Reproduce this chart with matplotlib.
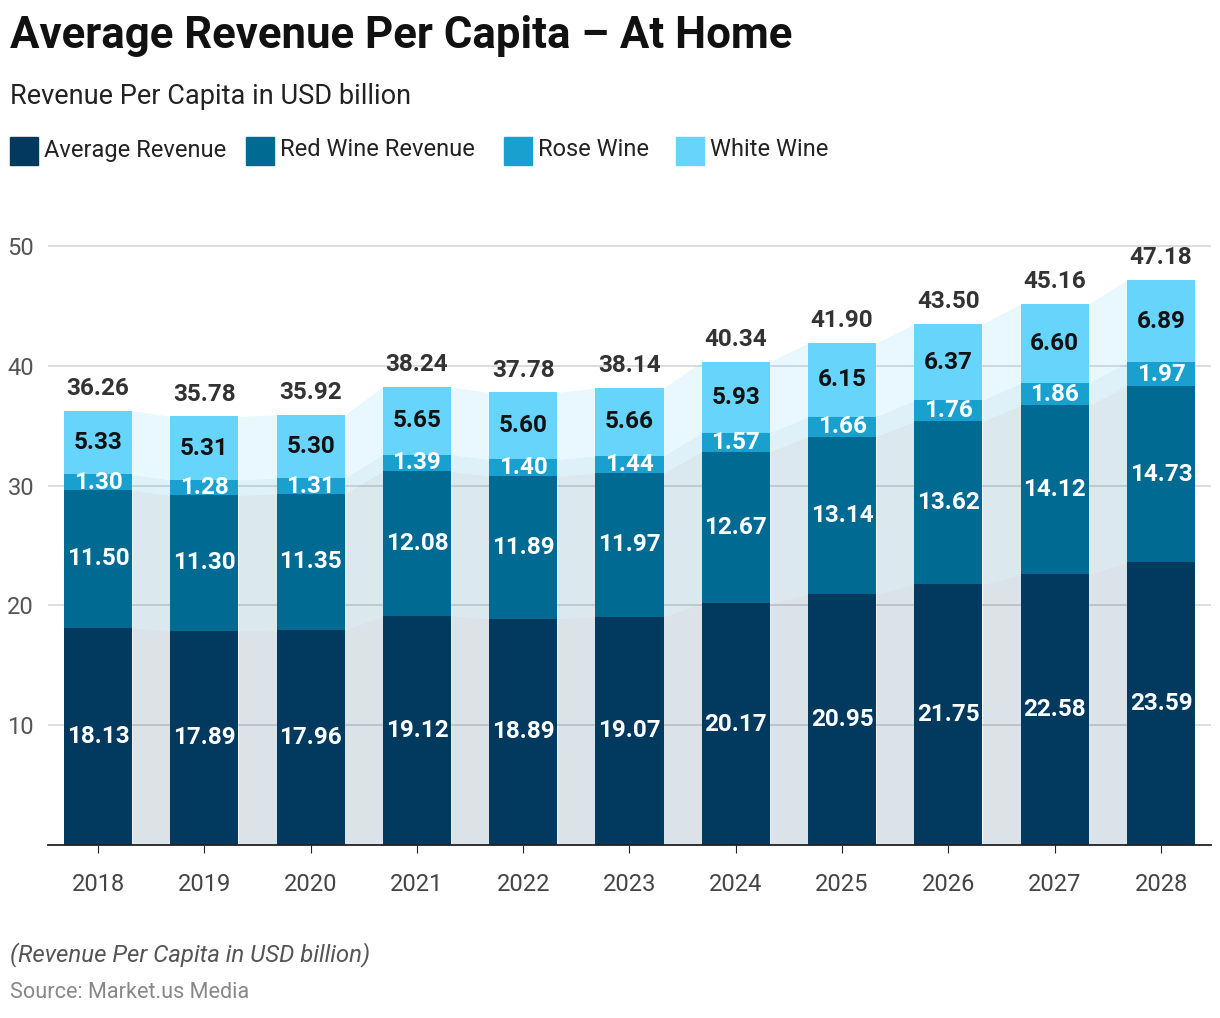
import matplotlib
matplotlib.use("Agg")
import matplotlib.pyplot as plt
from matplotlib.patches import Rectangle
import numpy as np

years = ["2018", "2019", "2020", "2021", "2022", "2023", "2024", "2025", "2026", "2027", "2028"]
average_revenue = [18.13, 17.89, 17.96, 19.12, 18.89, 19.07, 20.17, 20.95, 21.75, 22.58, 23.59]
red_wine = [11.50, 11.30, 11.35, 12.08, 11.89, 11.97, 12.67, 13.14, 13.62, 14.12, 14.73]
rose_wine = [1.30, 1.28, 1.31, 1.39, 1.40, 1.44, 1.57, 1.66, 1.76, 1.86, 1.97]
white_wine = [5.33, 5.31, 5.30, 5.65, 5.60, 5.66, 5.93, 6.15, 6.37, 6.60, 6.89]
totals = [36.26, 35.78, 35.92, 38.24, 37.78, 38.14, 40.34, 41.90, 43.50, 45.16, 47.18]

series_names = ["Average Revenue", "Red Wine Revenue", "Rose Wine", "White Wine"]
series = [average_revenue, red_wine, rose_wine, white_wine]
colors = ["#013a5e", "#016a93", "#1aa0cf", "#66d4fb"]
label_colors = ["white", "white", "white", "#111111"]

plt.rcParams["font.family"] = ["Roboto", "DejaVu Sans"]

fig = plt.figure(figsize=(12.2, 10.18), dpi=100)
ax = fig.add_axes([48 / 1220, (1018 - 845) / 1018, (1211 - 48) / 1220, 52 * 11.98 / 1018])

x = np.arange(len(years))
w = 0.64
bottoms = np.zeros(len(years))
for vals, col, lc in zip(series, colors, label_colors):
    vals = np.array(vals)
    tops = bottoms + vals
    # connectors between bars
    for i in range(len(x) - 1):
        xs = [x[i] + w / 2, x[i + 1] - w / 2]
        ax.fill_between(xs, [bottoms[i], bottoms[i + 1]], [tops[i], tops[i + 1]],
                        color=col, alpha=0.14, linewidth=0, zorder=1)
    ax.bar(x, vals, w, bottom=bottoms, color=col, zorder=2, linewidth=0)
    for i in range(len(x)):
        ax.text(x[i], bottoms[i] + vals[i] / 2, f"{vals[i]:.2f}", ha="center", va="center",
                color=lc, fontsize=17.5, fontweight="bold", zorder=3)
    bottoms = tops

for i in range(len(x)):
    ax.text(x[i], totals[i] + 0.9, f"{totals[i]:.2f}", ha="center", va="bottom",
            color="#333333", fontsize=17.5, fontweight="bold", zorder=3)

ax.set_xlim(-0.47, len(years) - 1 + 0.47)
ax.set_ylim(0, 52)
ax.set_yticks([10, 20, 30, 40, 50])
ax.yaxis.grid(True, color="#d6d6d6", linewidth=1.2, zorder=0)
ax.set_axisbelow(True)
ax.set_xticks(x)
ax.set_xticklabels(years)
for s in ["top", "right", "left"]:
    ax.spines[s].set_visible(False)
ax.spines["bottom"].set_color("#222222")
ax.spines["bottom"].set_linewidth(1.3)
ax.tick_params(axis="y", length=0, labelsize=17, labelcolor="#555555", pad=10)
ax.tick_params(axis="x", length=6, color="#222222", labelsize=17, labelcolor="#444444", pad=14)
for lab in ax.get_yticklabels():
    lab.set_horizontalalignment("right")

fig.text(10 / 1220, 1 - 36 / 1018, "Average Revenue Per Capita – At Home", fontsize=31.5,
         fontweight="bold", color="#111111", va="center", ha="left")
fig.text(10 / 1220, 1 - 96 / 1018, "Revenue Per Capita in USD billion", fontsize=19.5,
         color="#222222", va="center", ha="left")

# legend
lx = [10, 246, 504, 676]
for px, name, col in zip(lx, series_names, colors):
    fig.patches.append(Rectangle((px / 1220, 1 - 165 / 1018), 28 / 1220, 28 / 1018,
                                 transform=fig.transFigure, color=col))
    fig.text((px + 34) / 1220, 1 - 150 / 1018, name, fontsize=17, color="#222222",
             va="center", ha="left")

fig.text(10 / 1220, 1 - 955 / 1018, "(Revenue Per Capita in USD billion)", fontsize=17.3,
         style="italic", color="#555555", va="center", ha="left")
fig.text(10 / 1220, 1 - 992 / 1018, "Source: Market.us Media", fontsize=15.6,
         color="#888888", va="center", ha="left")

fig.savefig("out.png", dpi=100)
